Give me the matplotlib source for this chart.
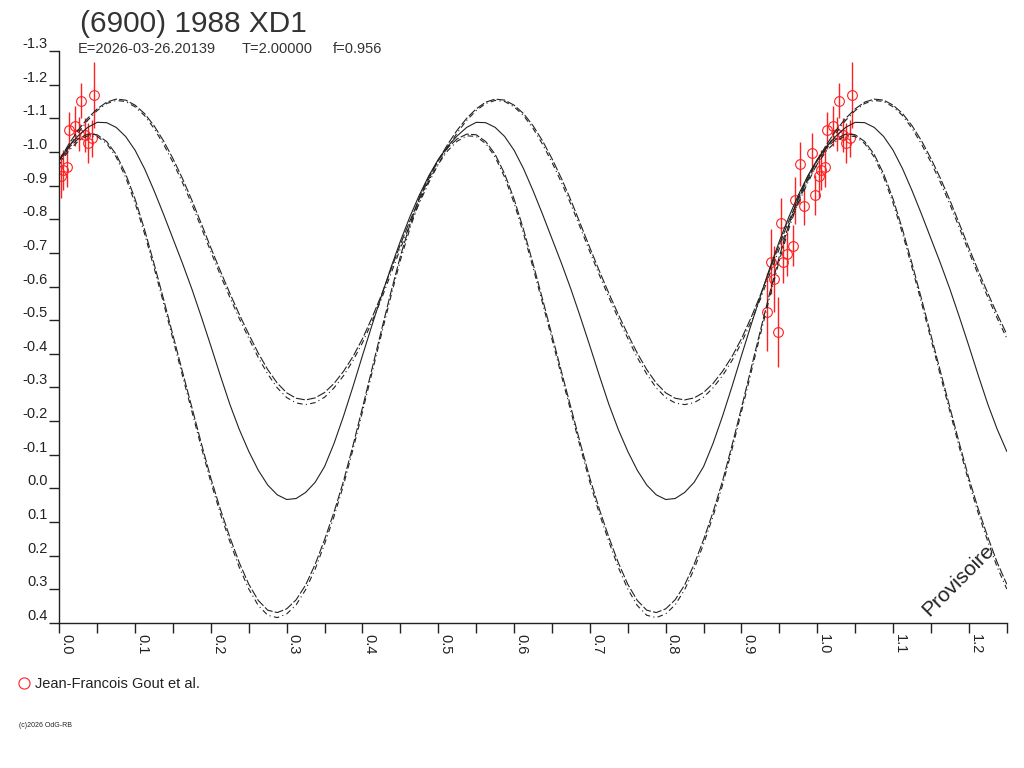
import numpy as np
import matplotlib
matplotlib.use('Agg')
import matplotlib.pyplot as plt

plt.rcParams['font.family'] = ['Liberation Sans', 'DejaVu Sans']
plt.rcParams['axes.unicode_minus'] = False

# Phase grid for the model curves (step 0.0125, 0 .. 1.25)
phase_grid = np.linspace(0.0, 1.25, 101)

# Model curves (mag, brighter = more negative)
solid_fit = [
    -0.978, -1.017, -1.048, -1.073, -1.088, -1.087, -1.073, -1.046, -1.005, -0.950,
    -0.885, -0.815, -0.742, -0.669, -0.592, -0.509, -0.423, -0.335, -0.250, -0.175,
    -0.110, -0.054, -0.010, 0.019, 0.033, 0.030, 0.012, -0.018, -0.065, -0.134,
    -0.215, -0.303, -0.395, -0.485, -0.572, -0.656, -0.735, -0.807, -0.872, -0.929,
    -0.978, -1.017, -1.048, -1.073, -1.088, -1.087, -1.073, -1.046, -1.005, -0.950,
    -0.885, -0.815, -0.742, -0.669, -0.592, -0.509, -0.423, -0.335, -0.250, -0.175,
    -0.110, -0.054, -0.010, 0.019, 0.033, 0.030, 0.012, -0.018, -0.065, -0.134,
    -0.215, -0.303, -0.395, -0.485, -0.572, -0.656, -0.735, -0.807, -0.872, -0.929,
    -0.978, -1.017, -1.048, -1.073, -1.088, -1.087, -1.073, -1.046, -1.005, -0.950,
    -0.885, -0.815, -0.742, -0.669, -0.592, -0.509, -0.423, -0.335, -0.250, -0.175,
    -0.110]
upper_a = [
    -0.975, -1.023, -1.065, -1.100, -1.128, -1.148, -1.157, -1.154, -1.139, -1.114,
    -1.078, -1.033, -0.980, -0.921, -0.856, -0.786, -0.715, -0.646, -0.580, -0.517,
    -0.458, -0.402, -0.353, -0.313, -0.284, -0.268, -0.263, -0.269, -0.285, -0.312,
    -0.348, -0.392, -0.445, -0.507, -0.575, -0.650, -0.725, -0.795, -0.860, -0.920,
    -0.975, -1.023, -1.065, -1.100, -1.128, -1.148, -1.157, -1.154, -1.139, -1.114,
    -1.078, -1.033, -0.980, -0.921, -0.856, -0.786, -0.715, -0.646, -0.580, -0.517,
    -0.458, -0.402, -0.353, -0.313, -0.284, -0.268, -0.263, -0.269, -0.285, -0.312,
    -0.348, -0.392, -0.445, -0.507, -0.575, -0.650, -0.725, -0.795, -0.860, -0.920,
    -0.975, -1.023, -1.065, -1.100, -1.128, -1.148, -1.157, -1.154, -1.139, -1.114,
    -1.078, -1.033, -0.980, -0.921, -0.856, -0.786, -0.715, -0.646, -0.580, -0.517,
    -0.458]
upper_b = [
    -0.964, -1.013, -1.057, -1.094, -1.123, -1.144, -1.153, -1.150, -1.134, -1.108,
    -1.070, -1.023, -0.969, -0.909, -0.844, -0.774, -0.703, -0.634, -0.568, -0.505,
    -0.446, -0.389, -0.340, -0.299, -0.270, -0.254, -0.249, -0.255, -0.271, -0.299,
    -0.335, -0.380, -0.433, -0.495, -0.563, -0.638, -0.713, -0.783, -0.848, -0.909,
    -0.964, -1.013, -1.057, -1.094, -1.123, -1.144, -1.153, -1.150, -1.134, -1.108,
    -1.070, -1.023, -0.969, -0.909, -0.844, -0.774, -0.703, -0.634, -0.568, -0.505,
    -0.446, -0.389, -0.340, -0.299, -0.270, -0.254, -0.249, -0.255, -0.271, -0.299,
    -0.335, -0.380, -0.433, -0.495, -0.563, -0.638, -0.713, -0.783, -0.848, -0.909,
    -0.964, -1.013, -1.057, -1.094, -1.123, -1.144, -1.153, -1.150, -1.134, -1.108,
    -1.070, -1.023, -0.969, -0.909, -0.844, -0.774, -0.703, -0.634, -0.568, -0.505,
    -0.446]
lower_a = [
    -0.975, -1.013, -1.039, -1.053, -1.051, -1.031, -0.993, -0.935, -0.860, -0.769,
    -0.668, -0.563, -0.455, -0.347, -0.240, -0.133, -0.030, 0.062, 0.145, 0.221,
    0.285, 0.333, 0.362, 0.369, 0.358, 0.331, 0.287, 0.226, 0.152, 0.070,
    -0.022, -0.128, -0.240, -0.355, -0.470, -0.583, -0.690, -0.784, -0.865, -0.927,
    -0.975, -1.013, -1.039, -1.053, -1.051, -1.031, -0.993, -0.935, -0.860, -0.769,
    -0.668, -0.563, -0.455, -0.347, -0.240, -0.133, -0.030, 0.062, 0.145, 0.221,
    0.285, 0.333, 0.362, 0.369, 0.358, 0.331, 0.287, 0.226, 0.152, 0.070,
    -0.022, -0.128, -0.240, -0.355, -0.470, -0.583, -0.690, -0.784, -0.865, -0.927,
    -0.975, -1.013, -1.039, -1.053, -1.051, -1.031, -0.993, -0.935, -0.860, -0.769,
    -0.668, -0.563, -0.455, -0.347, -0.240, -0.133, -0.030, 0.062, 0.145, 0.221,
    0.285]
lower_b = [
    -0.964, -1.004, -1.032, -1.048, -1.046, -1.025, -0.985, -0.925, -0.848, -0.757,
    -0.656, -0.551, -0.443, -0.335, -0.228, -0.121, -0.018, 0.075, 0.158, 0.235,
    0.299, 0.348, 0.377, 0.384, 0.373, 0.346, 0.301, 0.240, 0.165, 0.083,
    -0.010, -0.116, -0.228, -0.343, -0.458, -0.571, -0.678, -0.772, -0.853, -0.915,
    -0.964, -1.004, -1.032, -1.048, -1.046, -1.025, -0.985, -0.925, -0.848, -0.757,
    -0.656, -0.551, -0.443, -0.335, -0.228, -0.121, -0.018, 0.075, 0.158, 0.235,
    0.299, 0.348, 0.377, 0.384, 0.373, 0.346, 0.301, 0.240, 0.165, 0.083,
    -0.010, -0.116, -0.228, -0.343, -0.458, -0.571, -0.678, -0.772, -0.853, -0.915,
    -0.964, -1.004, -1.032, -1.048, -1.046, -1.025, -0.985, -0.925, -0.848, -0.757,
    -0.656, -0.551, -0.443, -0.335, -0.228, -0.121, -0.018, 0.075, 0.158, 0.235,
    0.299]

# Observations (phase modulo 1, magnitude, error)
obs_phase = [0.046, 0.029, 0.013, 0.021, 0.026, 0.034, 0.038, 0.043, 0.993, 0.977,
             0.010, 0.005, 0.002, 0.997, 0.971, 0.982, 0.952, 0.968, 0.960, 0.955,
             0.9385, 0.943, 0.933, 0.948]
obs_mag = [-1.169, -1.152, -1.065, -1.077, -1.053, -1.050, -1.027, -1.040, -0.998, -0.964,
           -0.956, -0.946, -0.929, -0.872, -0.857, -0.839, -0.788, -0.721, -0.697, -0.674,
           -0.674, -0.622, -0.525, -0.466]
obs_err = [0.097, 0.052, 0.055, 0.060, 0.050, 0.050, 0.060, 0.055, 0.057, 0.066,
           0.060, 0.060, 0.065, 0.060, 0.070, 0.055, 0.074, 0.061, 0.065, 0.064,
           0.096, 0.099, 0.116, 0.104]

y_ticks = [-1.3, -1.2, -1.1, -1.0, -0.9, -0.8, -0.7, -0.6, -0.5, -0.4, -0.3, -0.2,
           -0.1, 0.0, 0.1, 0.2, 0.3, 0.4]
y_tick_labels = ['-1.3', '-1.2', '-1.1', '-1.0', '-0.9', '-0.8', '-0.7', '-0.6', '-0.5',
                 '-0.4', '-0.3', '-0.2', '-0.1', '0.0', '0.1', '0.2', '0.3', '0.4']
x_ticks = [0.0, 0.1, 0.2, 0.3, 0.4, 0.5, 0.6, 0.7, 0.8, 0.9, 1.0, 1.1, 1.2]
x_tick_labels = ['0.0', '0.1', '0.2', '0.3', '0.4', '0.5', '0.6', '0.7', '0.8', '0.9',
                 '1.0', '1.1', '1.2']
x_minor = [0.05, 0.15, 0.25, 0.35, 0.45, 0.55, 0.65, 0.75, 0.85, 0.95, 1.05, 1.15, 1.25]

fig = plt.figure(figsize=(10.24, 7.68), dpi=100)
ax = fig.add_axes([0.0579, 0.1888, 0.9253, 0.7448])

# observations, repeated one cycle later where it fits the window
obs_phase = np.array(obs_phase)
obs_mag = np.array(obs_mag)
obs_err = np.array(obs_err)
for shift in (-1, 0, 1):
    xs = obs_phase + shift
    keep = (xs >= 0) & (xs <= 1.25)
    if keep.any():
        ax.errorbar(xs[keep], obs_mag[keep], yerr=obs_err[keep], fmt='o', ms=7,
                    mfc='none', mec='#ff2020', mew=0.8, ecolor='#ff2020',
                    elinewidth=1.0, capsize=0, zorder=2)

# fit and its envelopes
ax.plot(phase_grid, solid_fit, color='#222222', lw=0.8, zorder=3)
ax.plot(phase_grid, upper_a, color='#222222', lw=0.8, ls=(0, (8, 2)), zorder=3)
ax.plot(phase_grid, upper_b, color='#222222', lw=0.8, ls=(3, (5, 3, 1, 3)), zorder=3)
ax.plot(phase_grid, lower_a, color='#222222', lw=0.8, ls=(0, (8, 2)), zorder=3)
ax.plot(phase_grid, lower_b, color='#222222', lw=0.8, ls=(3, (5, 3, 1, 3)), zorder=3)

ax.set_xlim(0, 1.25)
ax.set_ylim(0.4, -1.3)
for side in ('top', 'right'):
    ax.spines[side].set_visible(False)
for side in ('left', 'bottom'):
    ax.spines[side].set_color('#222222')
    ax.spines[side].set_linewidth(1.0)

ax.set_yticks(y_ticks)
ax.set_yticklabels(y_tick_labels, fontsize=10.5, color='#222222')
for lab in ax.get_yticklabels():
    lab.set_verticalalignment('bottom')
ax.tick_params(axis='y', direction='out', length=7.5, width=1, pad=1, color='#222222')

ax.set_xticks(x_ticks)
ax.set_xticks(x_minor, minor=True)
ax.set_xticklabels(x_tick_labels, rotation=270, ha='left', va='top',
                   fontsize=10.5, color='#222222')
ax.tick_params(axis='x', which='both', direction='out', length=7, width=1, pad=1,
               color='#222222')

# header
fig.text(0.078, 0.958, '(6900) 1988 XD1', fontsize=21.5, color='#333333')
fig.text(0.076, 0.931, 'E=2026-03-26.20139', fontsize=10.5, color='#333333')
fig.text(0.236, 0.931, 'T=2.00000', fontsize=10.5, color='#333333')
fig.text(0.325, 0.931, 'f=0.956', fontsize=10.5, color='#333333')

# observer legend and footer
fig.lines.append(plt.Line2D([0.0235], [0.111], transform=fig.transFigure, marker='o',
                            ms=8, mfc='none', mec='#ff2020', mew=0.8, ls='none'))
fig.text(0.034, 0.104, 'Jean-Francois Gout et al.', fontsize=10.5, color='#222222')
fig.text(0.019, 0.053, '(c)2026 OdG-RB', fontsize=5, color='#222222')

fig.text(0.9355, 0.245, 'Provisoire', fontsize=15, rotation=45, color='#222222',
         ha='center', va='center')

fig.savefig('out.png', dpi=100)
plt.close(fig)
